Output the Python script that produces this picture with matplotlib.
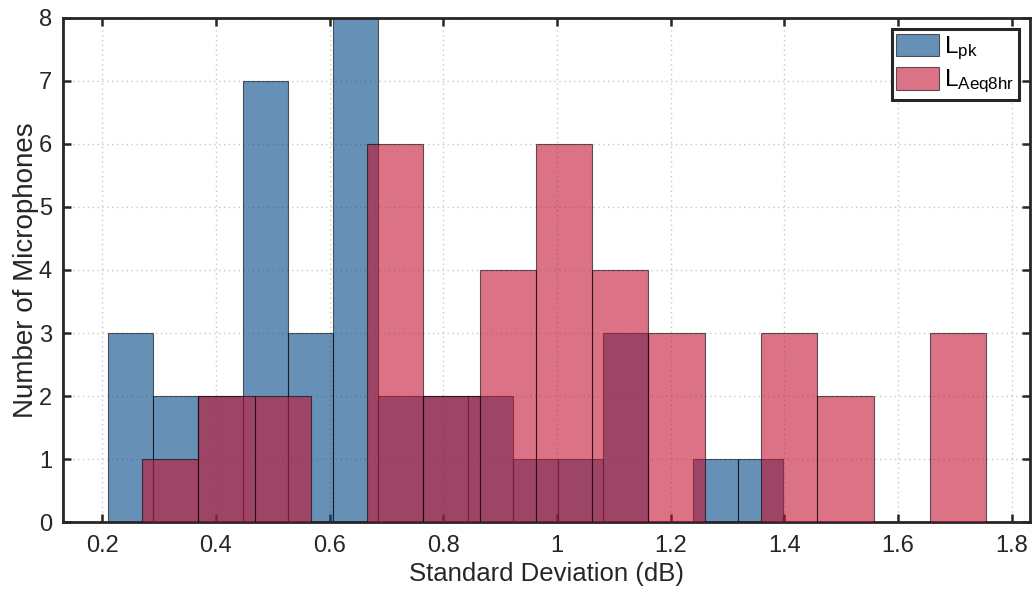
import numpy as np
import matplotlib
matplotlib.use("Agg")
import matplotlib.pyplot as plt

plt.rcParams['font.family'] = ['Liberation Sans', 'DejaVu Sans']
plt.rcParams['mathtext.fontset'] = 'custom'
plt.rcParams['mathtext.rm'] = 'Liberation Sans'
plt.rcParams['mathtext.it'] = 'Liberation Sans'

# bin edges and counts
pk_start, pk_width = 0.210, 0.0792
pk_counts = [3, 2, 2, 7, 3, 8, 2, 2, 2, 1, 1, 3, 0, 1, 1]

aeq_start, aeq_width = 0.270, 0.0990
aeq_counts = [1, 2, 2, 0, 6, 2, 4, 6, 4, 3, 0, 3, 2, 0, 3]

blue = (0.0, 0.275, 0.52)
red = (0.765, 0.08, 0.205)

fig = plt.figure(figsize=(10.34, 5.96), dpi=100)
ax = fig.add_axes([0.061, 0.124, 0.935, 0.846])

pk_edges = pk_start + pk_width * np.arange(len(pk_counts) + 1)
aeq_edges = aeq_start + aeq_width * np.arange(len(aeq_counts) + 1)

ax.hist(pk_edges[:-1], bins=pk_edges, weights=pk_counts, color=blue, alpha=0.6,
        edgecolor=(0, 0, 0, 0.6), linewidth=0.8, label=r'L$_{\mathrm{pk}}$', zorder=2)
ax.hist(aeq_edges[:-1], bins=aeq_edges, weights=aeq_counts, color=red, alpha=0.6,
        edgecolor=(0, 0, 0, 0.6), linewidth=0.8, label=r'L$_{\mathrm{Aeq8hr}}$', zorder=3)

ax.set_xlim(0.131, 1.832)
ax.set_ylim(0, 8)
ax.set_xticks([0.2, 0.4, 0.6, 0.8, 1.0, 1.2, 1.4, 1.6, 1.8])
ax.set_xticklabels(['0.2', '0.4', '0.6', '0.8', '1', '1.2', '1.4', '1.6', '1.8'])
ax.set_yticks(range(9))
ax.tick_params(direction='in', length=6, width=1.8, top=True, right=True,
               labelsize=17, colors='#262626')
ax.tick_params(axis='x', pad=9)
ax.tick_params(axis='y', pad=8)
ax.grid(True, linestyle=(0, (1, 2.5)), color='#c8c8c8', linewidth=1.0, zorder=0)
ax.set_axisbelow(True)
for s in ax.spines.values():
    s.set_linewidth(2.0)
    s.set_color('#262626')

ax.set_xlabel('Standard Deviation (dB)', fontsize=18.5, color='#262626', labelpad=4)
ax.set_ylabel('Number of Microphones', fontsize=20, color='#262626', labelpad=0)

leg = ax.legend(loc='upper right', fontsize=17.5, fancybox=False, framealpha=1,
                edgecolor='#262626', handlelength=1.75, handleheight=1.05,
                borderaxespad=0.45, handletextpad=0.2, labelspacing=0.2,
                borderpad=0.2)
leg.get_frame().set_linewidth(2.2)

fig.savefig('out.png', dpi=100)
